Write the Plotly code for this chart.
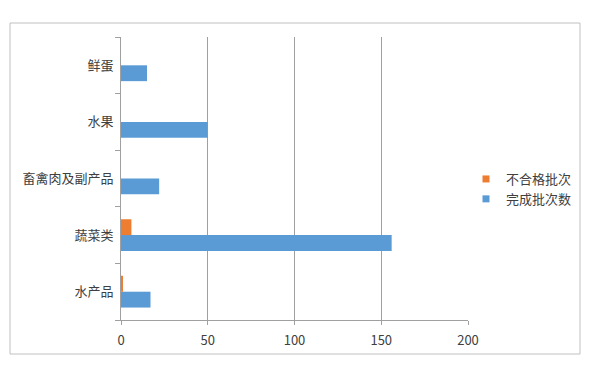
import plotly.graph_objects as go

categories = ["水产品", "蔬菜类", "畜禽肉及副产品", "水果", "鲜蛋"]
completed = [17, 156, 22, 50, 15]
failed = [1, 6, 0, 0, 0]
x_ticks = [0, 50, 100, 150, 200]
series_names = ["完成批次数", "不合格批次"]
series_colors = ["#5B9BD5", "#ED7D31"]

W, H = 600, 380
L, R, T, B = 121, 132, 37, 60
pw, ph = W - L - R, H - T - B

fig = go.Figure()
for vals, name, color in zip([completed, failed], series_names, series_colors):
    fig.add_trace(go.Bar(y=categories, x=vals, orientation="h", name=name,
                         marker=dict(color=color, line=dict(width=0)),
                         showlegend=False, legendgroup=name))
# legend entries with small square swatches
for name, color in zip(series_names, series_colors):
    fig.add_trace(go.Scatter(x=[None], y=[None], mode="markers", name=name,
                             marker=dict(symbol="square", size=7, color=color),
                             legendgroup=name, showlegend=True))

font = "Noto Sans CJK SC, Microsoft YaHei, sans-serif"
fig.update_layout(
    width=W, height=H,
    margin=dict(l=L, r=R, t=T, b=B),
    paper_bgcolor="white", plot_bgcolor="white",
    barmode="group", bargap=0.44, bargroupgap=0,
    font=dict(family=font, size=13, color="#404040"),
    legend=dict(x=(466 - L) / pw, y=(320 - 189) / ph, xanchor="left", yanchor="middle",
                traceorder="reversed", font=dict(size=13, color="#404040"),
                itemwidth=30, tracegroupgap=0, bgcolor="rgba(0,0,0,0)"),
    showlegend=True,
    xaxis=dict(range=[0, 200], tickvals=x_ticks, showgrid=True, gridcolor="#a0a0a0",
               gridwidth=1, zeroline=False, showline=True, linecolor="#a0a0a0",
               ticks="outside", ticklen=4, tickcolor="#a0a0a0", ticklabelstandoff=4,
               tickfont=dict(size=13, color="#404040"), fixedrange=True),
    yaxis=dict(type="category", categoryorder="array", categoryarray=categories,
               showline=True, linecolor="#a0a0a0", linewidth=1, ticks="outside",
               tickson="boundaries", ticklen=5, tickcolor="#a0a0a0", showgrid=False,
               ticklabelstandoff=4,
               tickfont=dict(size=13, color="#404040"), fixedrange=True),
    shapes=[dict(type="rect", xref="paper", yref="paper",
                 x0=(10 - L) / pw, x1=(580 - L) / pw,
                 y0=(320 - 354) / ph, y1=(320 - 23) / ph,
                 line=dict(color="#c0c0c0", width=1), layer="below")],
)

fig.write_html("out.html", config={"displayModeBar": False},
               post_script="document.body.style.margin='0';")
